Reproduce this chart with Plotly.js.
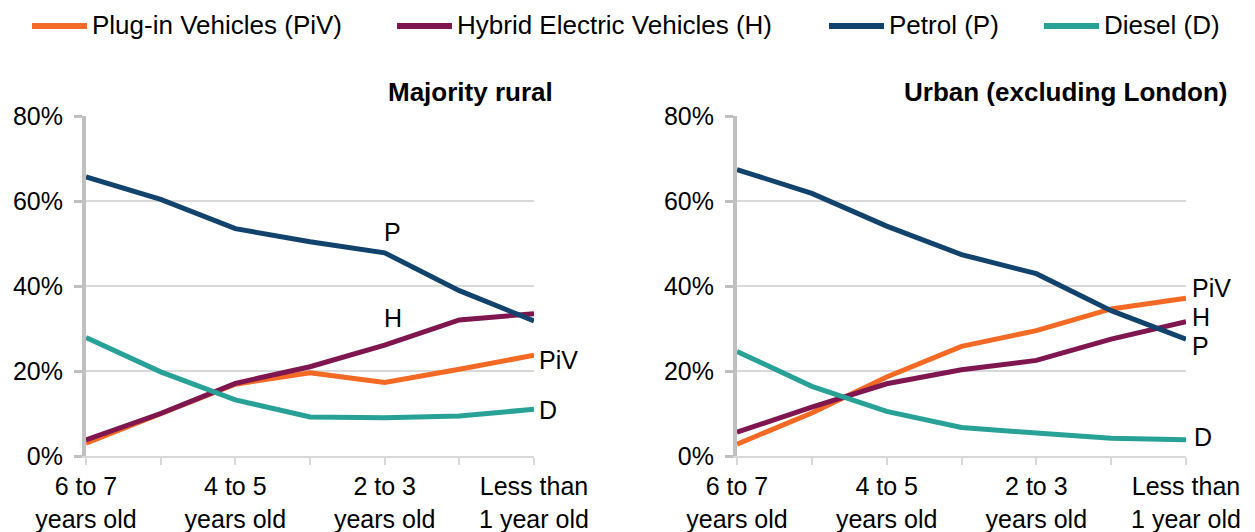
<!DOCTYPE html>
<html>
<head>
<meta charset="utf-8">
<script src="https://cdn.plot.ly/plotly-3.0.1.min.js"></script>
<style>
  html, body { margin: 0; padding: 0; background: #ffffff; }
  #chart { width: 1255px; height: 532px; }
</style>
</head>
<body>
<div id="chart"></div>
<script>
// ---------- data ----------
const categories = ["6 to 7 years old", "5 to 6 years old", "4 to 5 years old", "3 to 4 years old",
                    "2 to 3 years old", "1 to 2 years old", "Less than 1 year old"];
const tickLabels = ["6 to 7<br>years old", "", "4 to 5<br>years old", "", "2 to 3<br>years old", "", "Less than<br>1 year old"];
const yTickVals = [0, 20, 40, 60, 80];
const yTickText = ["0%", "20%", "40%", "60%", "80%"];

const seriesNames = ["Plug-in Vehicles (PiV)", "Hybrid Electric Vehicles (H)", "Petrol (P)", "Diesel (D)"];
const shortNames = ["PiV", "H", "P", "D"];
const panelTitles = ["Majority rural", "Urban (excluding London)"];

// Majority rural (%)
const ruralPiV    = [3.0, 9.9, 16.9, 19.6, 17.3, 20.4, 23.7];
const ruralH      = [3.8, 10.0, 17.1, 21.0, 26.1, 32.0, 33.5];
const ruralPetrol = [65.7, 60.4, 53.5, 50.4, 47.8, 38.9, 31.8];
const ruralDiesel = [27.9, 19.8, 13.2, 9.2, 9.0, 9.4, 11.0];

// Urban (excluding London) (%)
const urbanPiV    = [2.8, 10.1, 18.6, 25.8, 29.5, 34.6, 37.1];
const urbanH      = [5.6, 11.5, 17.0, 20.3, 22.5, 27.5, 31.6];
const urbanPetrol = [67.4, 61.8, 54.1, 47.4, 42.9, 34.2, 27.5];
const urbanDiesel = [24.6, 16.4, 10.5, 6.7, 5.4, 4.2, 3.8];

// ---------- style ----------
const colors = ["#F46A25", "#801650", "#12436D", "#28A197"];
const FONT = "Liberation Sans, Arial, sans-serif";
const W = 1255, H = 532;
const M = {l: 86, r: 69, t: 116, b: 76};
const PW = W - M.l - M.r, PH = H - M.t - M.b;
const px2x = p => (p - M.l) / PW;
const px2y = p => (H - M.b - p) / PH;

const ruralSeries = [ruralPiV, ruralH, ruralPetrol, ruralDiesel];
const urbanSeries = [urbanPiV, urbanH, urbanPetrol, urbanDiesel];

const traces = [];
ruralSeries.forEach((vals, i) => traces.push({
  type: "scatter", mode: "lines", x: categories, y: vals, name: seriesNames[i],
  xaxis: "x", yaxis: "y", showlegend: false, hoverinfo: "skip",
  line: {color: colors[i], width: 5}
}));
urbanSeries.forEach((vals, i) => traces.push({
  type: "scatter", mode: "lines", x: categories, y: vals, name: seriesNames[i],
  xaxis: "x2", yaxis: "y2", showlegend: false, hoverinfo: "skip",
  line: {color: colors[i], width: 5}
}));

function xAxis(domain, anchor) {
  return {
    domain: domain, anchor: anchor, type: "category", range: [0, 6],
    tickvals: categories, ticktext: tickLabels,
    showgrid: false, zeroline: false,
    showline: true, linecolor: "#D9D9D9", linewidth: 2,
    ticks: "outside", ticklen: 7, tickwidth: 2, tickcolor: "#D9D9D9",
    tickfont: {family: FONT, size: 25, color: "#000"},
    tickangle: 0, fixedrange: true
  };
}
function yAxis(anchor) {
  return {
    anchor: anchor, range: [0, 80], tickmode: "array", tickvals: yTickVals, ticktext: yTickText,
    showgrid: true, gridcolor: "#D9D9D9", gridwidth: 2, zeroline: false,
    showline: true, linecolor: "#C0C0C0", linewidth: 4,
    ticks: "outside", ticklen: 8, tickwidth: 3, tickcolor: "#C0C0C0",
    ticklabelstandoff: 6,
    tickfont: {family: FONT, size: 25, color: "#000"}, fixedrange: true
  };
}

const d1 = [0, px2x(534)];
const d2 = [px2x(737), 1];

const annotations = [];
// panel titles
const titleFont = {family: FONT, size: 26, color: "#000"};
annotations.push({xref: "paper", yref: "paper", x: px2x(555), y: px2y(92), xanchor: "right", yanchor: "middle",
  text: "<b>" + panelTitles[0] + "</b>", showarrow: false, font: titleFont});
annotations.push({xref: "paper", yref: "paper", x: px2x(1230), y: px2y(92), xanchor: "right", yanchor: "middle",
  text: "<b>" + panelTitles[1] + "</b>", showarrow: false, font: titleFont});

// series labels (rural): P and H above category 4, PiV and D at the end
const lblFont = {family: FONT, size: 25, color: "#000"};
annotations.push({xref: "x", yref: "y", x: categories[4], y: 52.7, xanchor: "left", yanchor: "middle", xshift: -3, text: shortNames[2], showarrow: false, font: lblFont});
annotations.push({xref: "x", yref: "y", x: categories[4], y: 32.5, xanchor: "left", yanchor: "middle", xshift: -3, text: shortNames[1], showarrow: false, font: lblFont});
annotations.push({xref: "x", yref: "y", x: categories[6], y: 22.6, xanchor: "left", yanchor: "middle", xshift: 3, text: shortNames[0], showarrow: false, font: lblFont});
annotations.push({xref: "x", yref: "y", x: categories[6], y: 10.8, xanchor: "left", yanchor: "middle", xshift: 3, text: shortNames[3], showarrow: false, font: lblFont});
// series labels (urban)
annotations.push({xref: "x2", yref: "y2", x: categories[6], y: 39.5, xanchor: "left", yanchor: "middle", xshift: 4, text: shortNames[0], showarrow: false, font: lblFont});
annotations.push({xref: "x2", yref: "y2", x: categories[6], y: 32.6, xanchor: "left", yanchor: "middle", xshift: 4, height: 24, text: shortNames[1], showarrow: false, font: lblFont});
annotations.push({xref: "x2", yref: "y2", x: categories[6], y: 26.0, xanchor: "left", yanchor: "middle", xshift: 4, height: 24, text: shortNames[2], showarrow: false, font: lblFont});
annotations.push({xref: "x2", yref: "y2", x: categories[6], y: 4.5, xanchor: "left", yanchor: "middle", xshift: 6, text: shortNames[3], showarrow: false, font: lblFont});

// manual legend (wide line keys)
const legendLineStart = [32, 397, 829, 1044];
const legendKeyLen = 55;
const legendY = 26;
const shapes = [];
seriesNames.forEach((nm, i) => {
  const x0 = legendLineStart[i];
  shapes.push({type: "line", xref: "paper", yref: "paper",
    x0: px2x(x0), x1: px2x(x0 + legendKeyLen), y0: px2y(legendY), y1: px2y(legendY),
    line: {color: colors[i], width: 6}});
  annotations.push({xref: "paper", yref: "paper", x: px2x(x0 + legendKeyLen + 3), y: px2y(legendY - 1),
    xanchor: "left", yanchor: "middle", text: nm, showarrow: false,
    font: {family: FONT, size: 26, color: "#000"}});
});

const layout = {
  width: W, height: H, margin: M,
  paper_bgcolor: "#ffffff", plot_bgcolor: "#ffffff",
  showlegend: false,
  font: {family: FONT, size: 25, color: "#000"},
  xaxis: xAxis(d1, "y"), yaxis: yAxis("x"),
  xaxis2: xAxis(d2, "y2"), yaxis2: yAxis("x2"),
  annotations: annotations, shapes: shapes
};

Plotly.newPlot("chart", traces, layout, {staticPlot: true, displayModeBar: false});
</script>
</body>
</html>
